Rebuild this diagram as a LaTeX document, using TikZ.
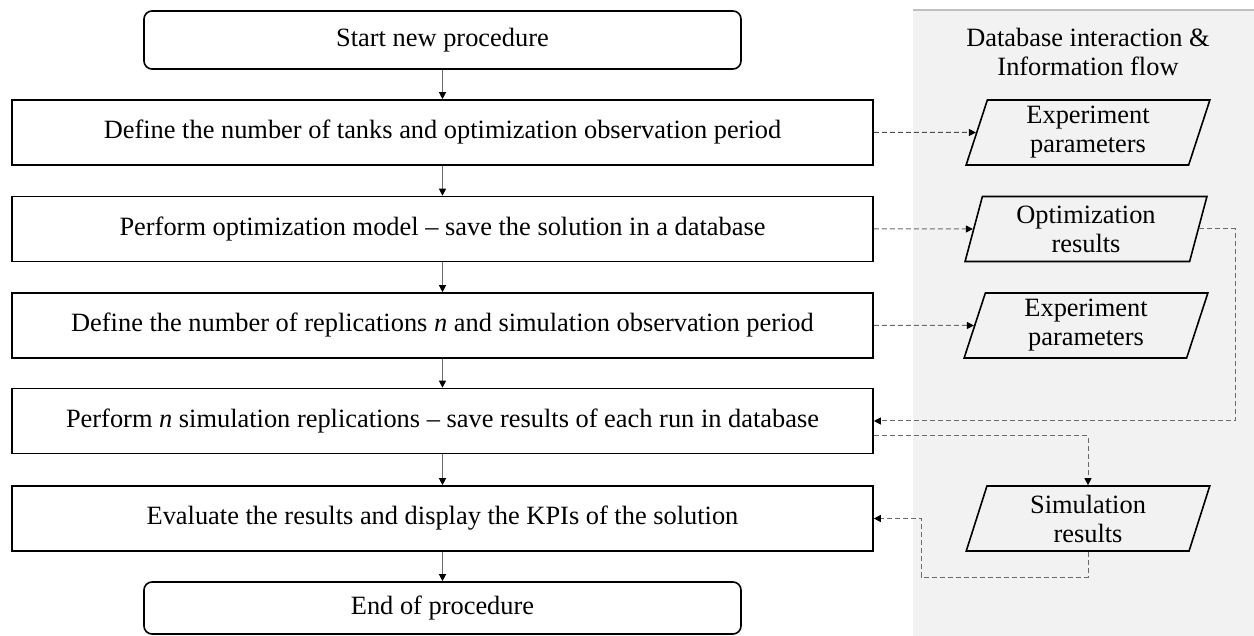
\documentclass[tikz,border=0pt]{standalone}
\usepackage{fontspec}
\setmainfont{Liberation Serif}
\usetikzlibrary{shapes.geometric,arrows.meta}
\definecolor{panelgray}{rgb}{0.949,0.949,0.949}
\definecolor{linegray}{rgb}{0.42,0.42,0.42}

\begin{document}
\begin{tikzpicture}
  [x=0.5pt,y=-0.5pt,font=\fontsize{13.2}{14.5}\selectfont,
   stepbox/.style={draw,line width=0.8pt,minimum width=430.5pt,minimum height=32.5pt,inner sep=0pt},
   termbox/.style={stepbox,rounded corners=4pt,minimum width=298.5pt,minimum height=29pt},
   databox/.style={draw,fill=panelgray,line width=0.8pt,trapezium,trapezium left angle=76,
     trapezium right angle=104,trapezium stretches=true,minimum width=122pt,
     minimum height=32.5pt,inner sep=0pt,align=center},
   flow/.style={draw=linegray,line width=0.5pt,-{Triangle[length=3.5pt,width=3.5pt,color=black]}},
   info/.style={flow,dash pattern=on 2.5pt off 1.5pt}]
  \useasboundingbox (0,0) rectangle (1254,636);

  % side panel
  \fill[panelgray] (913,10) rectangle (1254,636);
  \draw[black!25,line width=0.6pt] (913,10) -- (1254,10);
  \node (paneltitle) at (1088,52) [align=center] {Database interaction \&\\Information flow};

  % procedure steps
  \node[termbox] (start) at (442.5,40)    {Start new procedure};
  \node[stepbox] (tanks) at (442.5,132.5) {Define the number of tanks and optimization observation period};
  \node[stepbox] (optim) at (442.5,229)   {Perform optimization model -- save the solution in a database};
  \node[stepbox] (reps)  at (442.5,325.5) {Define the number of replications \textit{n} and simulation observation period};
  \node[stepbox] (runs)  at (442.5,421)   {Perform \textit{n} simulation replications -- save results of each run in database};
  \node[stepbox] (kpis)  at (442.5,518.5) {Evaluate the results and display the KPIs of the solution};
  \node[termbox,minimum height=26pt] (stop) at (442.5,608) {End of procedure};

  % data objects
  \node[databox] (expA)   at (1088,132.5) {Experiment\\parameters};
  \node[databox] (optres) at (1086,229)   {Optimization\\results};
  \node[databox] (expB)   at (1086,325.5) {Experiment\\parameters};
  \node[databox] (simres) at (1088,518.5) {Simulation\\results};

  \coordinate (rail) at (1235,300);
  \coordinate (bend) at (921,577);

  \foreach \from/\to in {start/tanks,tanks/optim,optim/reps,reps/runs,runs/kpis,kpis/stop}
    \draw[flow] (\from) -- (\to);

  \draw[info,draw=black!70] (tanks) -- (expA);
  \draw[info] (optim) -- (optres);
  \draw[info] (reps) -- (expB);
  \draw[info] (optres.east) -| (rail) |- (runs.east);
  \draw[info] ([yshift=-7.5pt]runs.east) -| (simres.north);
  \draw[info] (simres.south) |- (bend) |- (kpis.east);

\end{tikzpicture}
\end{document}
